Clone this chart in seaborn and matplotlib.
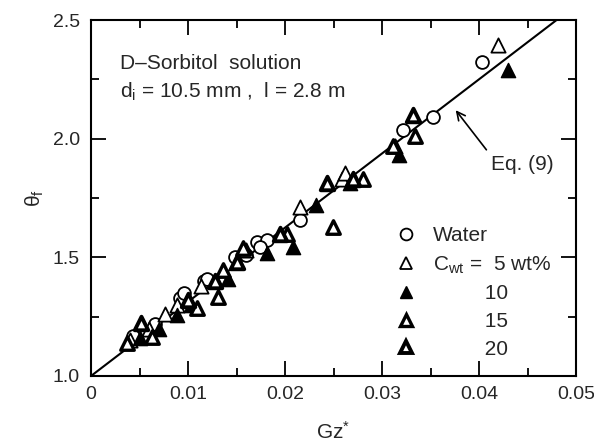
import matplotlib
matplotlib.use("Agg")
import numpy as np
import pandas as pd
import seaborn as sns
import matplotlib.pyplot as plt
from matplotlib.lines import Line2D
from matplotlib.ticker import MultipleLocator, FixedLocator, FixedFormatter

# ---- data ----
water_x = [0.0043, 0.0066, 0.0092, 0.0096, 0.0116, 0.0120, 0.0148, 0.0160,
           0.0171, 0.0181, 0.0174, 0.0215, 0.0322, 0.0353, 0.0403]
water_y = [1.17, 1.22, 1.33, 1.35, 1.40, 1.41, 1.50, 1.51,
           1.566, 1.573, 1.545, 1.657, 2.037, 2.09, 2.325]

c5_x = [0.0040, 0.0060, 0.0076, 0.0089, 0.0113, 0.0160, 0.0215, 0.0259, 0.0262, 0.0313, 0.0420]
c5_y = [1.15, 1.20, 1.26, 1.30, 1.38, 1.53, 1.71, 1.83, 1.857, 1.97, 2.395]

c10_x = [0.0050, 0.0070, 0.0089, 0.0103, 0.0141, 0.0181, 0.0208, 0.0232, 0.0267, 0.0318, 0.0430]
c10_y = [1.16, 1.20, 1.257, 1.30, 1.41, 1.518, 1.545, 1.72, 1.815, 1.93, 2.29]

c15_x = [0.0037, 0.0063, 0.0109, 0.0131, 0.0136, 0.0157, 0.0202, 0.0249, 0.0280, 0.0311, 0.0334]
c15_y = [1.14, 1.166, 1.286, 1.334, 1.447, 1.54, 1.598, 1.628, 1.83, 1.97, 2.01]

c20_x = [0.0052, 0.0100, 0.0128, 0.0150, 0.0195, 0.0243, 0.0270, 0.0332]
c20_y = [1.223, 1.32, 1.40, 1.48, 1.60, 1.815, 1.83, 2.10]

eq_x = [0.0, 0.048]
eq_y = [1.0, 2.5]

x_ticks = [0, 0.01, 0.02, 0.03, 0.04, 0.05]
x_tick_labels = ["0", "0.01", "0.02", "0.03", "0.04", "0.05"]
y_ticks = [1.0, 1.5, 2.0, 2.5]
y_tick_labels = ["1.0", "1.5", "2.0", "2.5"]

legend_labels = ["Water", "C$_{wt}$ =  5 wt%", "         10", "         15", "         20"]

# ---- style ----
sns.set_style("ticks")
plt.rcParams['font.family'] = ['Liberation Sans', 'DejaVu Sans']
plt.rcParams['mathtext.fontset'] = 'custom'
plt.rcParams['mathtext.rm'] = 'Liberation Sans'
plt.rcParams['mathtext.it'] = 'Liberation Sans:italic'
plt.rcParams['mathtext.default'] = 'regular'

fig = plt.figure(figsize=(5.94, 4.46), dpi=100)
ax = fig.add_axes([91/594, 1-376/446, (576-91)/594, (376-20)/446])

# Eq. (9) line
sns.lineplot(x=eq_x, y=eq_y, color='black', lw=1.5, ax=ax)

groups = [
    (water_x, water_y, 'o', 'white', 1.3, 85),
    (c5_x, c5_y, '^', 'white', 1.3, 105),
    (c10_x, c10_y, '^', 'black', 1.0, 105),
    (c15_x, c15_y, '^', 'white', 2.4, 95),
    (c20_x, c20_y, '^', 'white', 2.8, 95),
]
for gx, gy, mk, fc, lw, s in groups:
    df = pd.DataFrame({'x': gx, 'y': gy})
    sns.scatterplot(data=df, x='x', y='y', marker=mk, s=s, color=fc,
                    edgecolor='black', linewidth=lw, ax=ax, zorder=3)

ax.set_xlim(0, 0.05)
ax.set_ylim(1.0, 2.5)
ax.xaxis.set_major_locator(FixedLocator(x_ticks))
ax.xaxis.set_major_formatter(FixedFormatter(x_tick_labels))
ax.yaxis.set_major_locator(FixedLocator(y_ticks))
ax.yaxis.set_major_formatter(FixedFormatter(y_tick_labels))
ax.xaxis.set_minor_locator(MultipleLocator(0.005))
ax.yaxis.set_minor_locator(MultipleLocator(0.25))
ax.tick_params(which='both', direction='in', top=True, right=True, width=1.3,
               labelsize=14, color='black')
ax.tick_params(which='major', length=11)
ax.tick_params(which='minor', length=5.5)
ax.tick_params(axis='x', pad=7)
ax.tick_params(axis='y', pad=8)
for sp in ax.spines.values():
    sp.set_linewidth(1.5)
    sp.set_color('black')

ax.set_xlabel("Gz$^{*}$", fontsize=15, labelpad=13)
ax.set_ylabel("θ$_{f}$", fontsize=15, labelpad=5)

ax.text(0.06, 0.879, "D\u2013Sorbitol  solution", transform=ax.transAxes,
        fontsize=15, va='center', ha='left')
ax.text(0.06, 0.798, "d$_{i}$ = 10.5 mm ,  l = 2.8 m", transform=ax.transAxes,
        fontsize=15, va='center', ha='left')

ax.annotate("Eq. (9)", xy=(0.0376, 2.12), xytext=(0.0412, 1.89),
            fontsize=15, ha='left', va='center',
            arrowprops=dict(arrowstyle='->', lw=1.2, color='black',
                            relpos=(0.0, 1.0), shrinkA=2, shrinkB=0))

handles = [
    Line2D([], [], marker='o', ls='none', mfc='white', mec='black', mew=1.3, ms=8.5),
    Line2D([], [], marker='^', ls='none', mfc='white', mec='black', mew=1.3, ms=9),
    Line2D([], [], marker='^', ls='none', mfc='black', mec='black', mew=1.0, ms=9),
    Line2D([], [], marker='^', ls='none', mfc='white', mec='black', mew=2.4, ms=8.5),
    Line2D([], [], marker='^', ls='none', mfc='white', mec='black', mew=2.8, ms=8.5),
]
leg = ax.legend(handles, legend_labels, loc='upper left', bbox_to_anchor=(0.632, 0.42),
                frameon=False, fontsize=15, handlelength=0.8, handletextpad=0.9,
                borderpad=0, borderaxespad=0, labelspacing=0.42)

fig.savefig("out.png", dpi=100)
